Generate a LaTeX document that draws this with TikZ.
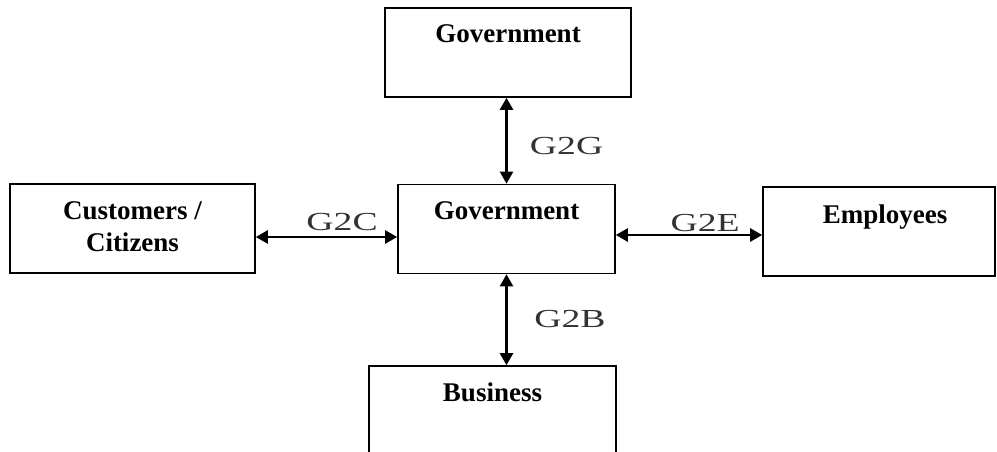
\documentclass[tikz,border=0pt]{standalone}
\usepackage{fontspec}
\setmainfont{Liberation Serif}
\usetikzlibrary{arrows.meta,positioning}

\tikzset{
  box/.style={draw, line width=1.6pt, minimum height=89pt, inner sep=0pt},
  boxtext/.style={font=\fontsize{27}{32}\selectfont\bfseries, align=center, inner sep=0pt},
  link/.style={line width=2.4pt, {Triangle[length=12pt,width=13pt]}-{Triangle[length=12pt,width=13pt]}},
  lbl/.style={font=\fontsize{26}{30}\selectfont, inner sep=0pt, xscale=1.45, transform shape, text=black!80}
}

\begin{document}
\begin{tikzpicture}[x=1pt,y=-1pt]
				\clip (0,0) rectangle (997,452);

				%Shape: Rectangle [govtop]
				\node [box, minimum width=246pt] (govtop) at (508,52.5) {};
				%Shape: Rectangle [gov]
				\node [box, minimum width=217pt] (gov) at (506.5,229) {};
				%Shape: Rectangle [cust]
				\node [box, minimum width=245pt] (cust) at (132.5,228.5) {};
				%Shape: Rectangle [emp]
				\node [box, minimum width=232pt] (emp) at (879,231.5) {};
				%Shape: Rectangle [bus]
				\node [box, minimum width=247pt] (bus) at (492.5,410.5) {};

				% Text Node
				\node [boxtext, below=17pt of govtop.north] (govtoptxt) {Government};
				% Text Node
				\node [boxtext, below=18pt of gov.north] (govtxt) {Government};
				% Text Node
				\node [boxtext, below=18pt of cust.north] (custtxt) {Customers /\\Citizens};
				% Text Node
				\node [boxtext, below=18pt of emp.north, xshift=6pt] (emptxt) {Employees};
				% Text Node
				\node [boxtext, below=17pt of bus.north] (bustxt) {Business};

				%Straight Lines [G2G]
				\draw [link] (gov.north) -- node [lbl, pos=0.44, anchor=west, xshift=15pt] (g2g) {G2G} (gov.north |- govtop.south);
				%Straight Lines [G2B]
				\draw [link] (gov.south) -- node [lbl, pos=0.49, anchor=west, xshift=18pt] (g2b) {G2B} (gov.south |- bus.north);
				%Straight Lines [G2C]
				\draw [link] ([yshift=-8.5pt]cust.east) -- node [lbl, pos=0.61, anchor=south, yshift=5pt] (g2c) {G2C} ([yshift=-8.5pt]cust.east -| gov.west);
				%Straight Lines [G2E]
				\draw [link] ([yshift=-6pt]gov.east) -- node [lbl, pos=0.61, anchor=south, yshift=2pt] (g2e) {G2E} ([yshift=-6pt]gov.east -| emp.west);

\end{tikzpicture}
\end{document}
